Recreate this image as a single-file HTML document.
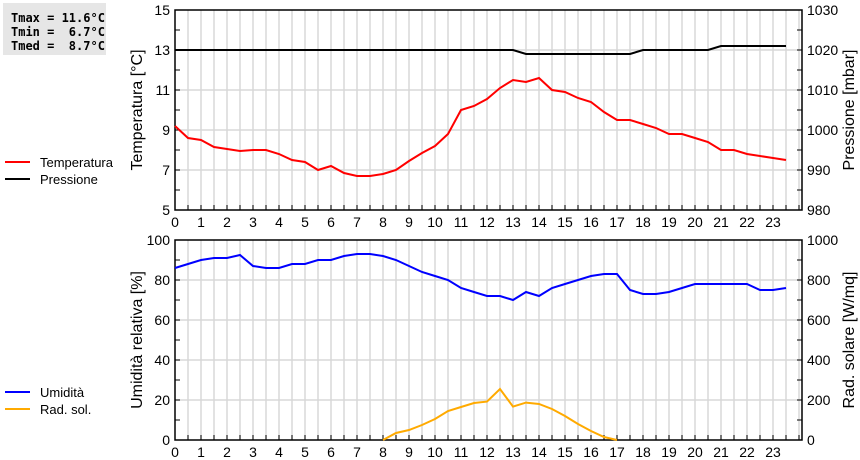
<!DOCTYPE html>
<html><head><meta charset="utf-8"><style>
body{margin:0;background:#fff;width:860px;height:460px;overflow:hidden;font-family:"Liberation Sans",sans-serif}
svg{display:block}
</style></head><body>
<svg id="c" width="860" height="460" font-family="Liberation Sans, sans-serif" font-size="14">
<rect x="3" y="3" width="103" height="52" fill="#e6e6e6"/>
<text x="11" y="22" font-family="DejaVu Sans Mono, monospace" font-weight="bold" font-size="12" xml:space="preserve">Tmax = 11.6°C</text>
<text x="11" y="36" font-family="DejaVu Sans Mono, monospace" font-weight="bold" font-size="12" xml:space="preserve">Tmin =  6.7°C</text>
<text x="11" y="50" font-family="DejaVu Sans Mono, monospace" font-weight="bold" font-size="12" xml:space="preserve">Tmed =  8.7°C</text>
<g>
<line x1="5" y1="162" x2="30" y2="162" stroke="#f00" stroke-width="2"/><text x="40" y="167" font-size="13">Temperatura</text>
<line x1="5" y1="179" x2="30" y2="179" stroke="#000" stroke-width="2"/><text x="40" y="184" font-size="13">Pressione</text>
</g>
<g>
<line x1="5" y1="392" x2="30" y2="392" stroke="#00f" stroke-width="2"/><text x="40" y="397" font-size="13">Umidità</text>
<line x1="5" y1="409" x2="30" y2="409" stroke="#fa0" stroke-width="2"/><text x="40" y="414" font-size="13">Rad. sol.</text>
</g>
<g id="g"></g>
</svg>
<script>
const hours=[0,0.5,1,1.5,2,2.5,3,3.5,4,4.5,5,5.5,6,6.5,7,7.5,8,8.5,9,9.5,10,10.5,11,11.5,12,12.5,13,13.5,14,14.5,15,15.5,16,16.5,17,17.5,18,18.5,19,19.5,20,20.5,21,21.5,22,22.5,23,23.5];
const temp=[9.2,8.6,8.5,8.15,8.05,7.95,8.0,8.0,7.8,7.5,7.4,7.0,7.2,6.85,6.7,6.7,6.8,7.0,7.45,7.85,8.2,8.8,10.0,10.2,10.55,11.1,11.5,11.4,11.6,11.0,10.9,10.6,10.4,9.9,9.5,9.5,9.3,9.1,8.8,8.8,8.6,8.4,8.0,8.0,7.8,7.7,7.6,7.5];
const press=[1020,1020,1020,1020,1020,1020,1020,1020,1020,1020,1020,1020,1020,1020,1020,1020,1020,1020,1020,1020,1020,1020,1020,1020,1020,1020,1020,1019,1019,1019,1019,1019,1019,1019,1019,1019,1020,1020,1020,1020,1020,1020,1021,1021,1021,1021,1021,1021];
const hum=[86,88,90,91,91,92.5,87,86,86,88,88,90,90,92,93,93,92,90,87,84,82,80,76,74,72,72,70,74,72,76,78,80,82,83,83,75,73,73,74,76,78,78,78,78,78,75,75,76];
const solHours=[8,8.5,9,9.5,10,10.5,11,11.5,12,12.5,13,13.5,14,14.5,15,15.5,16,16.5,17];
const sol=[0,35,50,75,105,145,165,185,192,255,167,187,180,155,120,80,45,15,0];
const xTicks=[0,1,2,3,4,5,6,7,8,9,10,11,12,13,14,15,16,17,18,19,20,21,22,23];
const tTicks=[5,7,9,11,13,15], pTicks=[980,990,1000,1010,1020,1030];
const hTicks=[0,20,40,60,80,100], sTicks=[0,200,400,600,800,1000];
const NS="http://www.w3.org/2000/svg",G=document.getElementById('g');
const L=175,R=802,XS=26.0;
const x=h=>L+h*XS;
function el(t,a,p){const e=document.createElementNS(NS,t);for(const k in a)e.setAttribute(k,a[k]);(p||G).appendChild(e);return e;}
function panel(top,bot,lmin,lmax,rmin,rmax,lt,rt,ll,rl,name){
  const yl=v=>bot-(v-lmin)/(lmax-lmin)*(bot-top), yr=v=>bot-(v-rmin)/(rmax-rmin)*(bot-top);
  const g=el('g',{});
  
  
  for(let h=0.5;h<24.1;h+=0.5) el('line',{x1:x(h),x2:x(h),y1:top,y2:bot,stroke:'#d8d8d8','stroke-width':1.5},g);
  for(let i=1;i<lt.length-1;i++) el('line',{x1:L,x2:R,y1:yl(lt[i]),y2:yl(lt[i]),stroke:'#d8d8d8','stroke-width':1.5},g);
  const step=(lt[1]-lt[0])/2;
  for(let v=lmin;v<=lmax;v+=step){el('line',{x1:L,x2:L+5,y1:yl(v),y2:yl(v),stroke:'#000'},g);el('line',{x1:R-5,x2:R,y1:yl(v),y2:yl(v),stroke:'#000'},g);}
  for(let h=0.5;h<24.1;h+=0.5) el('line',{x1:x(h),x2:x(h),y1:bot-5,y2:bot,stroke:'#000'},g);
  el('rect',{x:L,y:top,width:R-L,height:bot-top,fill:'none',stroke:'#000','stroke-width':1.5},g);
  lt.forEach(v=>{const t=el('text',{x:L-5,y:yl(v)+5,'text-anchor':'end'},g);t.textContent=v;
    
    });
  rt.forEach(v=>{const t=el('text',{x:R+5,y:yr(v)+5},g);t.textContent=v;
    
    });
  xTicks.forEach(v=>{const t=el('text',{x:x(v),y:bot+17,'text-anchor':'middle'},g);t.textContent=v;
    
    });
  const cy=(top+bot)/2;
  const a=el('text',{x:0,y:0,transform:`translate(142,${cy}) rotate(-90)`,'text-anchor':'middle','font-size':16},g);a.textContent=ll;
  
  
  const b=el('text',{x:0,y:0,transform:`translate(854,${cy}) rotate(-90)`,'text-anchor':'middle','font-size':16},g);b.textContent=rl;
  
  
  return [yl,yr];
}
function line(xs,vs,f,color,name){
  const p=el('polyline',{points:xs.map((h,i)=>x(h)+','+f(vs[i])).join(' '),fill:'none',stroke:color,'stroke-width':2});
  
  
}
const [ty,py]=panel(10,210,5,15,980,1030,tTicks,pTicks,'Temperatura [°C]','Pressione [mbar]','top-panel');
line(hours,press,py,'#000','pressure-line');
line(hours,temp,ty,'#f00','temperature-line');
const [hy,sy]=panel(240,440,0,100,0,1000,hTicks,sTicks,'Umidità relativa [%]','Rad. solare [W/mq]','bottom-panel');
line(solHours,sol,sy,'#fa0','solar-line');
line(hours,hum,hy,'#00f','humidity-line');
</script>
</body></html>
